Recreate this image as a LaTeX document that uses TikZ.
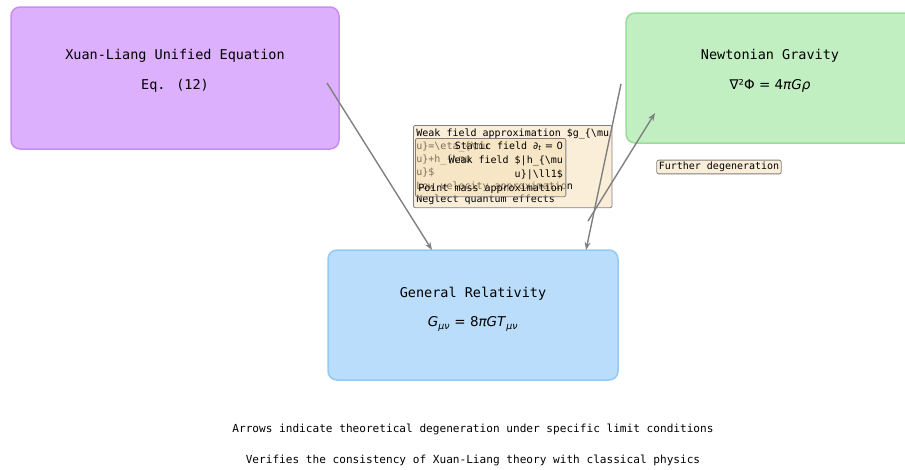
\documentclass[tikz,border=0pt]{standalone}
\usepackage{fontspec}
\setmainfont{DejaVu Sans Mono}
\newfontfamily\eqfont{DejaVu Sans}
\usetikzlibrary{arrows.meta}

\definecolor{xuanfill}{HTML}{DCB0FC}
\definecolor{xuanline}{HTML}{C98CF2}
\definecolor{newtonfill}{HTML}{C2EFC2}
\definecolor{newtonline}{HTML}{98DE98}
\definecolor{grfill}{HTML}{BADDFC}
\definecolor{grline}{HTML}{92C9F6}
\definecolor{condfill}{HTML}{F5DEB3}
\definecolor{arrowgray}{HTML}{808080}

\begin{document}
\begin{tikzpicture}[x=1pt,y=-1pt,>={Stealth[length=8pt,width=6pt]},
    theory/.style={draw,line width=1.5pt,rounded corners=9pt,inner sep=0pt},
    title/.style={font=\fontsize{13.5}{16}\selectfont},
    cond/.style={draw=arrowgray,line width=0.8pt,fill=condfill,fill opacity=0.5,
        text opacity=1,rounded corners=2pt,inner sep=3pt,
        font=\fontsize{10}{13.3}\selectfont},
    degen/.style={->,draw=arrowgray,line width=1.4pt}]
    \useasboundingbox (0,0) rectangle (905,469);
    \clip (0,0) rectangle (905,469);
    % theory boxes
    \node[theory,draw=xuanline,fill=xuanfill,minimum width=328pt,minimum height=142pt] (xuan) at (175,78) {};
    \node[theory,draw=newtonline,fill=newtonfill,minimum width=288pt,minimum height=130pt] (newton) at (770,78) {};
    \node[theory,draw=grline,fill=grfill,minimum width=290pt,minimum height=130pt] (gr) at (473,315) {};
    \node[title] (xuan-name) at (175,56) {Xuan-Liang Unified Equation};
    \node[title] (xuan-eq) at (175,86) {Eq. (12)};
    \node[title] (newton-name) at (770,56) {Newtonian Gravity};
    \node[title] (newton-eq) at (770,86) {\eqfont ∇²Φ = 4\textit{πGρ}};
    \node[title] (gr-name) at (473,294) {General Relativity};
    \node[title] (gr-eq) at (473,324) {\eqfont\textit{G}\textsubscript{\textit{μν}} = 8\textit{πGT}\textsubscript{\textit{μν}}};
    % limit conditions
    \node[cond,anchor=north west,align=left] (weak) at (413,125)
        {Weak field approximation \$g\_\{\textbackslash mu\\
         u\}=\textbackslash eta\_\{\textbackslash mu\\
         u\}+h\_\{\textbackslash mu\\
         u\}\$\\
         Low velocity approximation\\
         Neglect quantum effects};
    \node[cond,anchor=north west,align=right,font=\fontsize{10}{14.2}\selectfont] (static) at (415,138)
        {Static field {\eqfont\textit{∂}\textsubscript{\textit{t}} = 0}\\
         Weak field \$|h\_\{\textbackslash mu\\
         u\}|\textbackslash ll1\$\\
         Point mass approximation};
    \node[cond,inner sep=2pt] (further) at (719,167) {Further degeneration};
    % degeneration arrows
    \coordinate (xuan-out) at (327,83);
    \coordinate (gr-in-left) at (432,250);
    \coordinate (newton-out) at (621,84);
    \coordinate (gr-in-right) at (586,250);
    \coordinate (gr-out) at (588,221);
    \coordinate (newton-in) at (655,113);
    \draw[degen] (xuan-out) -- (gr-in-left);
    \draw[degen] (newton-out) -- (gr-in-right);
    \draw[degen] (gr-out) -- (newton-in);
    % notes
    \node[font=\fontsize{11.1}{13}\selectfont] (note-arrows) at (473,429)
        {Arrows indicate theoretical degeneration under specific limit conditions};
    \node[font=\fontsize{11.1}{13}\selectfont] (note-check) at (473,460)
        {Verifies the consistency of Xuan-Liang theory with classical physics};
\end{tikzpicture}
\end{document}
